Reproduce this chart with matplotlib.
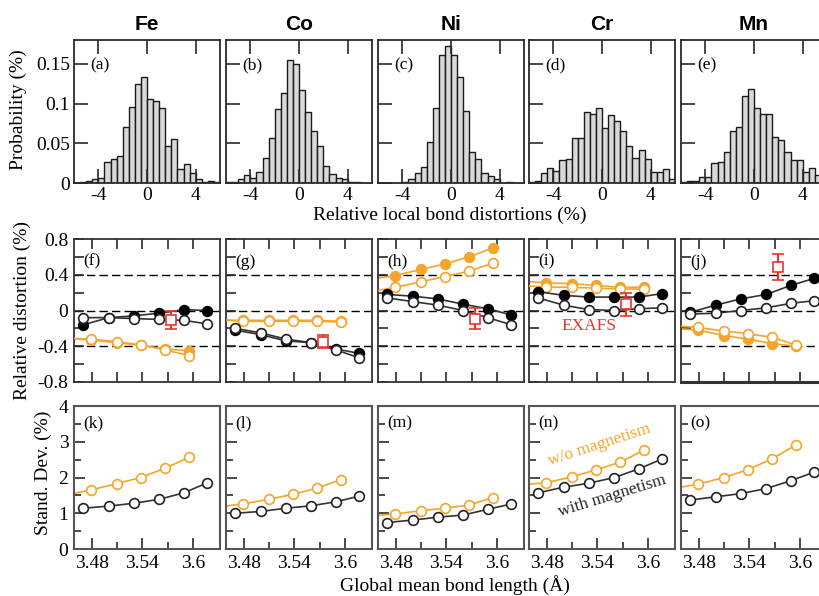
import matplotlib
matplotlib.use("Agg")
import matplotlib.pyplot as plt
import numpy as np
from matplotlib.ticker import FixedLocator, MultipleLocator

plt.rcParams["font.family"] = ["Liberation Serif", "DejaVu Serif"]
plt.rcParams["axes.unicode_minus"] = False

ELEMENTS = ["Fe", "Co", "Ni", "Cr", "Mn"]
TOP_TAGS = ["(a)", "(b)", "(c)", "(d)", "(e)"]
MID_TAGS = ["(f)", "(g)", "(h)", "(i)", "(j)"]
BOT_TAGS = ["(k)", "(l)", "(m)", "(n)", "(o)"]

# histogram: 24 bins of 0.5 % from -6 to 6
bin_left = np.arange(-6.0, 6.0, 0.5)
hist_fe = [0, 0.001, 0.003, 0.005, 0.006, 0.027, 0.030, 0.034, 0.070, 0.096, 0.125, 0.134,
           0.106, 0.103, 0.094, 0.047, 0.056, 0.017, 0.024, 0.013, 0.005, 0.001, 0.003, 0.001]
hist_co = [0.001, 0.001, 0.005, 0.010, 0.006, 0.014, 0.032, 0.057, 0.093, 0.113, 0.155, 0.150,
           0.117, 0.089, 0.065, 0.046, 0.021, 0.011, 0.006, 0.005, 0.001, 0.001, 0, 0]
hist_ni = [0, 0, 0, 0, 0.001, 0.005, 0.012, 0.020, 0.051, 0.094, 0.161, 0.172,
           0.161, 0.134, 0.091, 0.039, 0.030, 0.013, 0.009, 0.005, 0, 0.001, 0, 0]
hist_cr = [0.001, 0.003, 0.013, 0.019, 0.015, 0.029, 0.030, 0.057, 0.057, 0.089, 0.087, 0.094,
           0.069, 0.086, 0.078, 0.065, 0.046, 0.032, 0.041, 0.030, 0.014, 0.014, 0.018, 0.005]
hist_mn = [0.001, 0.002, 0.002, 0.008, 0.008, 0.025, 0.027, 0.039, 0.065, 0.071, 0.110, 0.118,
           0.095, 0.087, 0.087, 0.058, 0.054, 0.039, 0.029, 0.029, 0.014, 0.019, 0.010, 0.005]

# global mean bond length (A)
x_mag = [3.470, 3.500, 3.530, 3.560, 3.589, 3.617]
x_nomag = [3.451, 3.479, 3.510, 3.538, 3.567, 3.595]

# relative distortion (%) : filled / open, with and w/o magnetism
dist_mag_fill = [[-0.16, -0.08, -0.06, -0.03, 0.01, 0.00],
                 [-0.22, -0.27, -0.34, -0.36, -0.43, -0.48],
                 [0.18, 0.16, 0.13, 0.07, 0.02, -0.05],
                 [0.21, 0.17, 0.15, 0.15, 0.15, 0.19],
                 [-0.02, 0.06, 0.13, 0.18, 0.28, 0.36]]
dist_mag_open = [[-0.08, -0.08, -0.09, -0.10, -0.11, -0.15],
                 [-0.20, -0.25, -0.32, -0.36, -0.44, -0.53],
                 [0.14, 0.10, 0.06, 0.00, -0.08, -0.16],
                 [0.14, 0.06, 0.01, 0.00, 0.02, 0.03],
                 [-0.04, -0.03, 0.00, 0.03, 0.08, 0.11]]
dist_nomag_fill = [[-0.31, -0.33, -0.36, -0.39, -0.43, -0.45],
                   [-0.11, -0.11, -0.11, -0.11, -0.11, -0.12],
                   [0.35, 0.39, 0.46, 0.52, 0.60, 0.70],
                   [0.33, 0.31, 0.30, 0.28, 0.26, 0.26],
                   [-0.20, -0.22, -0.28, -0.32, -0.37, -0.40]]
dist_nomag_open = [[-0.31, -0.32, -0.35, -0.385, -0.44, -0.505],
                   [-0.10, -0.12, -0.12, -0.12, -0.12, -0.13],
                   [0.21, 0.26, 0.32, 0.38, 0.44, 0.53],
                   [0.28, 0.26, 0.26, 0.25, 0.24, 0.24],
                   [-0.17, -0.19, -0.23, -0.26, -0.30, -0.385]]

# EXAFS reference
exafs_x = 3.574
exafs_val = [-0.11, -0.35, -0.09, 0.07, 0.49]
exafs_err = [0.10, 0.075, 0.12, 0.13, 0.145]

# standard deviation (%)
std_mag = [[1.14, 1.20, 1.28, 1.39, 1.57, 1.85],
           [1.00, 1.05, 1.14, 1.21, 1.32, 1.48],
           [0.74, 0.81, 0.89, 0.95, 1.11, 1.26],
           [1.57, 1.73, 1.84, 2.00, 2.24, 2.52],
           [1.37, 1.46, 1.55, 1.69, 1.91, 2.15]]
std_nomag = [[1.52, 1.65, 1.83, 2.00, 2.26, 2.56],
             [1.18, 1.26, 1.39, 1.53, 1.70, 1.94],
             [0.93, 0.98, 1.07, 1.14, 1.23, 1.44],
             [1.80, 1.85, 2.02, 2.21, 2.43, 2.76],
             [1.70, 1.81, 2.00, 2.22, 2.52, 2.91]]

ORANGE = "#F6A52C"
RED = "#E8352C"
DARK = "#2a2a2a"

W, H = 819, 596
COL_LEFT = [74, 226, 378, 529, 681]
COL_W = 146
ROWS = [(40, 183), (239, 382), (406, 549)]


def _ax(fig, col, row):
    top, bot = ROWS[row]
    return fig.add_axes([COL_LEFT[col] / W, 1 - bot / H, COL_W / W, (bot - top) / H])


def _frame(ax, color, lw=1.3):
    for s in ax.spines.values():
        s.set_color(color)
        s.set_linewidth(lw)


fig = plt.figure(figsize=(W / 100, H / 100), dpi=100)
hists = [hist_fe, hist_co, hist_ni, hist_cr, hist_mn]

for i, el in enumerate(ELEMENTS):
    # --- top: histograms
    ax = _ax(fig, i, 0)
    ax.bar(bin_left, hists[i], width=0.5, align="edge", color="#d9d9d9",
           edgecolor="#1a1a1a", linewidth=1.0)
    ax.set_xlim(-6, 6)
    ax.set_ylim(0, 0.18)
    ax.set_xticks([-4, 0, 4])
    ax.set_xticklabels(["-4", "0", "4"])
    ax.set_yticks([0, 0.05, 0.1, 0.15])
    ax.set_yticklabels(["0", "0.05", "0.1", "0.15"])
    ax.tick_params(direction="in", length=10, width=1.2, labelsize=14, pad=3,
                   top=True, right=False, color=DARK)
    if i > 0:
        ax.set_yticklabels([])
    _frame(ax, DARK)
    ax.text(0.11, 0.82, TOP_TAGS[i], transform=ax.transAxes, fontsize=12.5,
            va="center", ha="left")
    fig.text((COL_LEFT[i] + COL_W / 2) / W, 1 - 24 / H, el, ha="center", va="center",
             fontsize=15, fontweight="bold", family=["Liberation Sans", "DejaVu Sans"])

    # --- middle: relative distortion
    ax = _ax(fig, i, 1)
    for yv in (0.4, 0.0, -0.4):
        ax.axhline(yv, color="black", lw=1.0, ls=(0, (6, 3)), zorder=1)
    ax.plot(x_nomag, dist_nomag_fill[i], "-o", color=ORANGE, mfc=ORANGE, mec=ORANGE,
            ms=7, mew=1.2, lw=1.2, zorder=2)
    ax.plot(x_nomag, dist_nomag_open[i], "-o", color=ORANGE, mfc="white", mec=ORANGE,
            ms=7, mew=1.2, lw=1.2, zorder=3)
    ax.plot(x_mag, dist_mag_fill[i], "-o", color="#333333", mfc="black", mec="black",
            ms=7, mew=1.2, lw=1.2, zorder=4)
    ax.plot(x_mag, dist_mag_open[i], "-o", color="#333333", mfc="white", mec="#222222",
            ms=7, mew=1.2, lw=1.2, zorder=5)
    ax.errorbar([exafs_x], [exafs_val[i]], yerr=[exafs_err[i]], fmt="s", mfc="white",
                mec=RED, ecolor=RED, ms=6.5, mew=1.2, capsize=4, elinewidth=1.5,
                capthick=1.5, zorder=6)
    ax.set_xlim(3.459, 3.632)
    ax.set_ylim(-0.8, 0.8)
    ax.xaxis.set_major_locator(FixedLocator([3.48, 3.51, 3.54, 3.57, 3.60]))
    ax.set_xticklabels([])
    ax.set_yticks([-0.8, -0.4, 0, 0.4, 0.8])
    ax.set_yticklabels(["-0.8", "-0.4", "0", "0.4", "0.8"])
    ax.yaxis.set_minor_locator(FixedLocator([-0.6, -0.2, 0.2, 0.6]))
    ax.tick_params(which="both", direction="in", length=7, width=1.2, labelsize=14,
                   pad=4, top=True, right=False, color=DARK)
    if i > 0:
        ax.set_yticklabels([])
    _frame(ax, "#333333")
    if i == 4:
        ax.spines["bottom"].set_linewidth(2.2)
    ax.text(0.06, 0.84, MID_TAGS[i], transform=ax.transAxes, fontsize=12.5,
            va="center", ha="left")
    if i == 3:
        ax.text(0.41, 0.39, "EXAFS", transform=ax.transAxes, color=RED, fontsize=12.5,
                ha="center", va="center")

    # --- bottom: standard deviation
    ax = _ax(fig, i, 2)
    ax.plot(x_nomag, std_nomag[i], "-o", color=ORANGE, mfc="white", mec=ORANGE,
            ms=7, mew=1.2, lw=1.2, zorder=2)
    ax.plot(x_mag, std_mag[i], "-o", color="#333333", mfc="white", mec="#222222",
            ms=7, mew=1.2, lw=1.2, zorder=3)
    ax.set_xlim(3.459, 3.632)
    ax.set_ylim(0, 4)
    ax.set_xticks([3.48, 3.54, 3.60])
    ax.set_xticklabels(["3.48", "3.54", "3.6"])
    ax.xaxis.set_minor_locator(FixedLocator([3.51, 3.57]))
    ax.set_yticks([0, 1, 2, 3, 4])
    ax.yaxis.set_minor_locator(MultipleLocator(0.5))
    ax.tick_params(which="major", direction="in", length=8, width=1.2, labelsize=14,
                   pad=4, color=DARK)
    ax.tick_params(which="minor", direction="in", length=5, width=1.2, color=DARK)
    if i > 0:
        ax.set_yticklabels([])
    _frame(ax, "#555555", 1.5)
    ax.text(0.06, 0.88, BOT_TAGS[i], transform=ax.transAxes, fontsize=12.5,
            va="center", ha="left")
    if i == 3:
        ax.text(0.48, 0.73, "w/o magnetism", transform=ax.transAxes, color=ORANGE,
                fontsize=12.5, ha="center", va="center", rotation=18,
                rotation_mode="anchor")
        ax.text(0.57, 0.37, "with magnetism", transform=ax.transAxes, color="#222222",
                fontsize=12.5, ha="center", va="center", rotation=17,
                rotation_mode="anchor")

fig.text(18 / W, 1 - 110 / H, "Probability (%)", rotation=90, fontsize=14,
         ha="center", va="center")
fig.text(450 / W, 1 - 215 / H, "Relative local bond distortions (%)", fontsize=14,
         ha="center", va="center")
fig.text(22 / W, 1 - 311 / H, "Relative distortion (%)", rotation=90, fontsize=14,
         ha="center", va="center")
fig.text(43 / W, 1 - 473 / H, "Stand. Dev. (%)", rotation=90, fontsize=14,
         ha="center", va="center")
fig.text(455 / W, 1 - 585 / H, "Global mean bond length (Å)", fontsize=14,
         ha="center", va="center")

fig.savefig("out.png", dpi=100)
